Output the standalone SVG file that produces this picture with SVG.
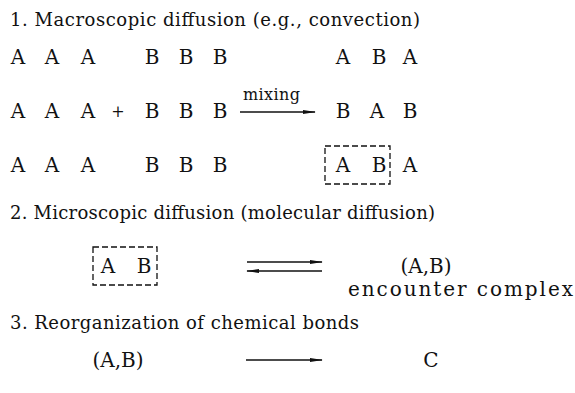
<svg xmlns="http://www.w3.org/2000/svg" width="575" height="393" viewBox="0 0 575 393">
<style>
text{font-family:"DejaVu Serif","Liberation Serif",serif;fill:#111;}
.t{font-size:18px;}
.e{font-size:20px;}
.l{font-size:20px;text-anchor:middle;}
.s{font-size:16px;text-anchor:middle;}
.box{fill:none;stroke:#111;stroke-width:1.3;stroke-dasharray:6 3;}
.ar{stroke:#111;stroke-width:1.5;fill:none;}
</style>
<defs>
<marker id="h" viewBox="0 0 13 6" refX="12" refY="3" markerWidth="13" markerHeight="6" markerUnits="userSpaceOnUse" orient="auto">
<path d="M0,0.9 L13,3 L0,5.1 Z" fill="#111"/>
</marker>
</defs>
<rect width="575" height="393" fill="#fff"/>
<g id="section1">
<text class="t" x="10" y="26" textLength="410" lengthAdjust="spacing">1. Macroscopic diffusion (e.g., convection)</text>
<g id="row1">
<text class="l" x="18" y="64">A</text><text class="l" x="52" y="64">A</text><text class="l" x="88" y="64">A</text>
<text class="l" x="152" y="64">B</text><text class="l" x="186" y="64">B</text><text class="l" x="220" y="64">B</text>
<text class="l" x="343" y="64">A</text><text class="l" x="379" y="64">B</text><text class="l" x="410" y="64">A</text>
</g>
<g id="row2">
<text class="l" x="18" y="118">A</text><text class="l" x="52" y="118">A</text><text class="l" x="88" y="118">A</text>
<text class="s" x="118" y="117">+</text>
<text class="l" x="152" y="118">B</text><text class="l" x="186" y="118">B</text><text class="l" x="220" y="118">B</text>
<text class="s" x="271.5" y="100" textLength="57" lengthAdjust="spacing">mixing</text>
<text class="l" x="343" y="118">B</text><text class="l" x="377" y="118">A</text><text class="l" x="410" y="118">B</text>
</g>
<g id="row3">
<text class="l" x="18" y="172">A</text><text class="l" x="52" y="172">A</text><text class="l" x="88" y="172">A</text>
<text class="l" x="152" y="172">B</text><text class="l" x="186" y="172">B</text><text class="l" x="220" y="172">B</text>
<rect class="box" x="325" y="146" width="65" height="38"/>
<text class="l" x="343" y="172">A</text><text class="l" x="379" y="172">B</text><text class="l" x="410" y="172">A</text>
</g>
</g>
<g id="section2">
<text class="t" x="10" y="219" textLength="425" lengthAdjust="spacing">2. Microscopic diffusion (molecular diffusion)</text>
<g id="pair">
<rect class="box" x="93" y="247" width="64" height="38"/>
<text class="l" x="108" y="273">A</text><text class="l" x="144" y="273">B</text>
</g>
<g id="complex">
<text class="l" x="426" y="273">(A,B)</text>
<text class="e" x="348" y="296" textLength="225" lengthAdjust="spacing">encounter complex</text>
</g>
</g>
<g id="section3">
<text class="t" x="10" y="329" textLength="349" lengthAdjust="spacing">3. Reorganization of chemical bonds</text>
<g id="reactant"><text class="l" x="118" y="367">(A,B)</text></g>
<g id="product"><text class="l" x="431" y="367">C</text></g>
</g>
<g id="connectors">
<line class="ar" x1="240" y1="112" x2="315" y2="112" marker-end="url(#h)"/>
<line class="ar" x1="247" y1="262" x2="322" y2="262" marker-end="url(#h)"/>
<line class="ar" x1="322" y1="271" x2="247" y2="271" marker-end="url(#h)"/>
<line class="ar" x1="246" y1="360" x2="322" y2="360" marker-end="url(#h)"/>
</g>
</svg>
